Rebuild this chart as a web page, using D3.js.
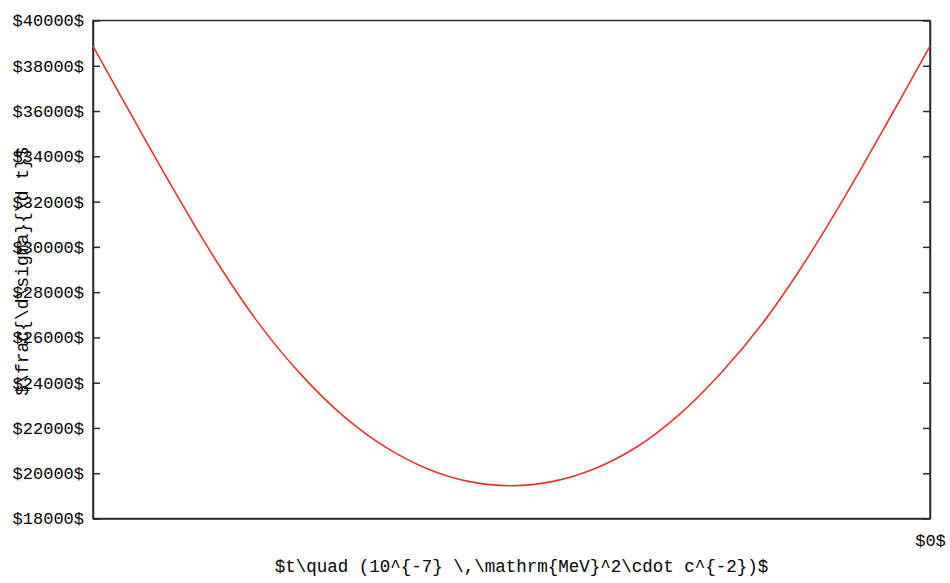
<!DOCTYPE html>
<html>
<head>
<meta charset="utf-8">
<script src="https://cdn.jsdelivr.net/npm/d3@7"></script>
<style>
  html, body { margin: 0; padding: 0; background: #fff; }
  svg { display: block; }
  .tick text { font-family: "Liberation Mono", "DejaVu Sans Mono", monospace; font-size: 17px; fill: #000; }
</style>
</head>
<body>
<svg id="chart" width="950" height="583"></svg>
<script>
// Data
const tValues = [-10, -9.5, -9, -8.5, -8, -7.5, -7, -6.5, -6, -5.5, -5, -4.5, -4, -3.5, -3, -2.5, -2, -1.5, -1, -0.5, 0];
const sigmaValues = [38870, 35550, 32300, 29220, 26520, 24300, 22500, 21140, 20190, 19630, 19450, 19640, 20210, 21170, 22580, 24420, 26630, 29300, 32330, 35560, 38870];
const yTicks = [18000, 20000, 22000, 24000, 26000, 28000, 30000, 32000, 34000, 36000, 38000, 40000];
const xTicks = [0];
const xLabel = "$t\\quad (10^{-7} \\,\\mathrm{MeV}^2\\cdot c^{-2})$";
const yLabel = "$\\frac{\\d\\sigma}{\\d t}$";

(function () {
const svg = d3.select("#chart");
const mLeft = 93, mRight = 930, mTop = 20.5, mBottom = 518.5;

const x = d3.scaleLinear().domain([-10, 0]).range([mLeft, mRight]);
const y = d3.scaleLinear().domain([18000, 40000]).range([mBottom, mTop]);

const fmt = d => "$" + d + "$";
const axisColor = "#2a2a2a";

// frame
svg.append("rect")
  .attr("x", mLeft).attr("y", mTop)
  .attr("width", mRight - mLeft).attr("height", mBottom - mTop)
  .attr("fill", "none").attr("stroke", axisColor).attr("stroke-width", 1.5);

// left axis
const gl = svg.append("g").attr("transform", `translate(${mLeft},0)`)
  .call(d3.axisLeft(y).tickValues(yTicks).tickFormat(fmt).tickSizeInner(-7).tickSizeOuter(0).tickPadding(9));
// right axis
const gr = svg.append("g").attr("transform", `translate(${mRight},0)`)
  .call(d3.axisRight(y).tickValues(yTicks).tickFormat("").tickSizeInner(-7).tickSizeOuter(0));
// bottom axis
const gb = svg.append("g").attr("transform", `translate(0,${mBottom})`)
  .call(d3.axisBottom(x).tickValues(xTicks).tickFormat(fmt).tickSize(0).tickPadding(15));

[gl, gr, gb].forEach(g => {
  g.select(".domain").attr("stroke", axisColor).attr("stroke-width", 1.5);
  g.selectAll(".tick line").attr("stroke", axisColor).attr("stroke-width", 1.5);
});

// curve
const data = tValues.map((t, i) => ({ t, v: sigmaValues[i] }));
svg.append("path")
  .datum(data)
  .attr("fill", "none")
  .attr("stroke", "#e0352f")
  .attr("stroke-width", 1.6)
  .attr("d", d3.line().x(d => x(d.t)).y(d => y(d.v)).curve(d3.curveCatmullRom.alpha(0.5)));

// axis labels
svg.append("text")
  .attr("x", (mLeft + mRight) / 2 + 10).attr("y", 572)
  .attr("text-anchor", "middle")
  .attr("font-family", "Liberation Mono, DejaVu Sans Mono, monospace")
  .attr("font-size", 17.5).attr("fill", "#000")
  .text(xLabel);

svg.append("text")
  .attr("transform", `translate(28,${(mTop + mBottom) / 2 + 2}) rotate(-90)`)
  .attr("text-anchor", "middle")
  .attr("font-family", "Liberation Mono, DejaVu Sans Mono, monospace")
  .attr("font-size", 18).attr("fill", "#000")
  .text(yLabel);
})();
</script>
</body>
</html>
